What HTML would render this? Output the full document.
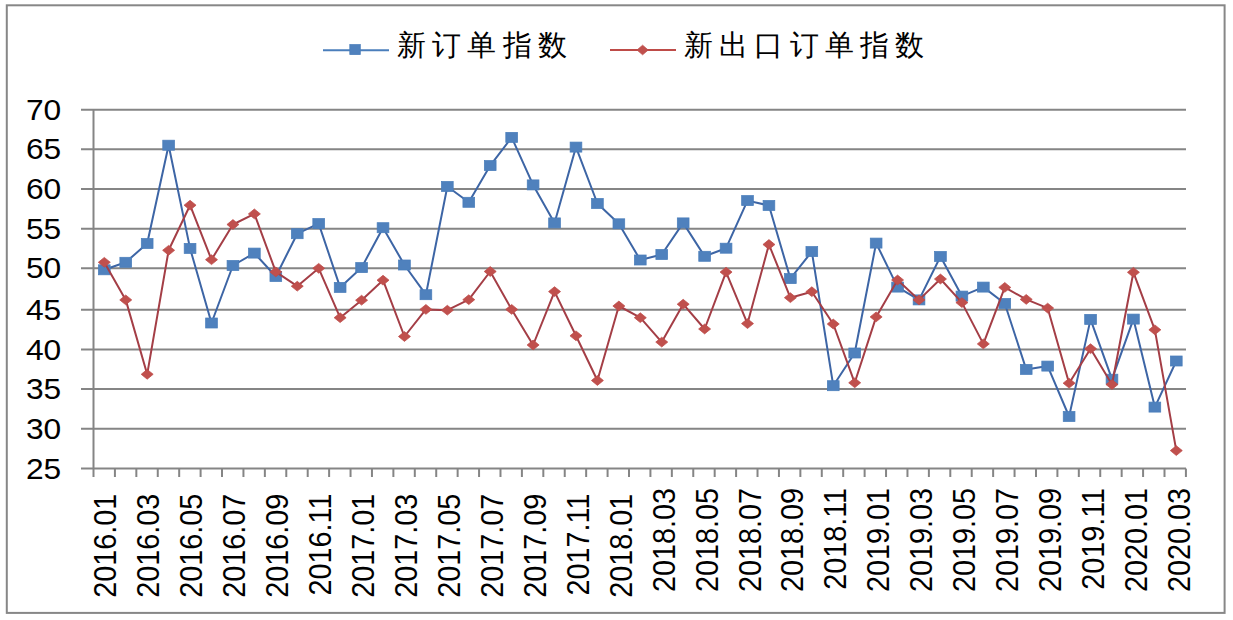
<!DOCTYPE html>
<html><head><meta charset="utf-8"><style>
html,body{margin:0;padding:0;background:#fff;}
svg{display:block;}
.yl{font-family:"Liberation Sans",sans-serif;font-size:29px;fill:#000;text-anchor:end;dominant-baseline:central;}
.xl{font-family:"Liberation Sans",sans-serif;font-size:28.8px;fill:#000;}
.lg{font-family:"Liberation Sans",sans-serif;font-size:29px;fill:#000;letter-spacing:6.2px;}
</style></head><body>
<svg width="1233" height="620" viewBox="0 0 1233 620">
<rect x="0" y="0" width="1233" height="620" fill="#fff"/>
<rect x="6.8" y="5.3" width="1217.8" height="607.6" fill="none" stroke="#878787" stroke-width="2"/>
<line x1="81" y1="109.80" x2="1186" y2="109.80" stroke="#858585" stroke-width="2"/>
<text class="yl" transform="translate(61.2 109.60) scale(1.095 1)">70</text>
<line x1="81" y1="149.20" x2="1186" y2="149.20" stroke="#858585" stroke-width="2"/>
<text class="yl" transform="translate(61.2 149.00) scale(1.095 1)">65</text>
<line x1="81" y1="188.90" x2="1186" y2="188.90" stroke="#858585" stroke-width="2"/>
<text class="yl" transform="translate(61.2 188.70) scale(1.095 1)">60</text>
<line x1="81" y1="228.80" x2="1186" y2="228.80" stroke="#858585" stroke-width="2"/>
<text class="yl" transform="translate(61.2 228.60) scale(1.095 1)">55</text>
<line x1="81" y1="268.20" x2="1186" y2="268.20" stroke="#858585" stroke-width="2"/>
<text class="yl" transform="translate(61.2 268.00) scale(1.095 1)">50</text>
<line x1="81" y1="309.80" x2="1186" y2="309.80" stroke="#858585" stroke-width="2"/>
<text class="yl" transform="translate(61.2 309.60) scale(1.095 1)">45</text>
<line x1="81" y1="349.60" x2="1186" y2="349.60" stroke="#858585" stroke-width="2"/>
<text class="yl" transform="translate(61.2 349.40) scale(1.095 1)">40</text>
<line x1="81" y1="388.90" x2="1186" y2="388.90" stroke="#858585" stroke-width="2"/>
<text class="yl" transform="translate(61.2 388.70) scale(1.095 1)">35</text>
<line x1="81" y1="428.80" x2="1186" y2="428.80" stroke="#858585" stroke-width="2"/>
<text class="yl" transform="translate(61.2 428.60) scale(1.095 1)">30</text>
<line x1="81" y1="468.60" x2="1186" y2="468.60" stroke="#858585" stroke-width="2"/>
<text class="yl" transform="translate(61.2 468.40) scale(1.095 1)">25</text>
<line x1="93.5" y1="109.80" x2="93.5" y2="477" stroke="#858585" stroke-width="2"/>
<line x1="114.92" y1="468.60" x2="114.92" y2="477" stroke="#858585" stroke-width="2"/>
<line x1="136.34" y1="468.60" x2="136.34" y2="477" stroke="#858585" stroke-width="2"/>
<line x1="157.76" y1="468.60" x2="157.76" y2="477" stroke="#858585" stroke-width="2"/>
<line x1="179.18" y1="468.60" x2="179.18" y2="477" stroke="#858585" stroke-width="2"/>
<line x1="200.60" y1="468.60" x2="200.60" y2="477" stroke="#858585" stroke-width="2"/>
<line x1="222.02" y1="468.60" x2="222.02" y2="477" stroke="#858585" stroke-width="2"/>
<line x1="243.44" y1="468.60" x2="243.44" y2="477" stroke="#858585" stroke-width="2"/>
<line x1="264.86" y1="468.60" x2="264.86" y2="477" stroke="#858585" stroke-width="2"/>
<line x1="286.28" y1="468.60" x2="286.28" y2="477" stroke="#858585" stroke-width="2"/>
<line x1="307.70" y1="468.60" x2="307.70" y2="477" stroke="#858585" stroke-width="2"/>
<line x1="329.12" y1="468.60" x2="329.12" y2="477" stroke="#858585" stroke-width="2"/>
<line x1="350.54" y1="468.60" x2="350.54" y2="477" stroke="#858585" stroke-width="2"/>
<line x1="371.96" y1="468.60" x2="371.96" y2="477" stroke="#858585" stroke-width="2"/>
<line x1="393.38" y1="468.60" x2="393.38" y2="477" stroke="#858585" stroke-width="2"/>
<line x1="414.80" y1="468.60" x2="414.80" y2="477" stroke="#858585" stroke-width="2"/>
<line x1="436.22" y1="468.60" x2="436.22" y2="477" stroke="#858585" stroke-width="2"/>
<line x1="457.64" y1="468.60" x2="457.64" y2="477" stroke="#858585" stroke-width="2"/>
<line x1="479.06" y1="468.60" x2="479.06" y2="477" stroke="#858585" stroke-width="2"/>
<line x1="500.48" y1="468.60" x2="500.48" y2="477" stroke="#858585" stroke-width="2"/>
<line x1="521.90" y1="468.60" x2="521.90" y2="477" stroke="#858585" stroke-width="2"/>
<line x1="543.32" y1="468.60" x2="543.32" y2="477" stroke="#858585" stroke-width="2"/>
<line x1="564.74" y1="468.60" x2="564.74" y2="477" stroke="#858585" stroke-width="2"/>
<line x1="586.16" y1="468.60" x2="586.16" y2="477" stroke="#858585" stroke-width="2"/>
<line x1="607.58" y1="468.60" x2="607.58" y2="477" stroke="#858585" stroke-width="2"/>
<line x1="629.00" y1="468.60" x2="629.00" y2="477" stroke="#858585" stroke-width="2"/>
<line x1="650.42" y1="468.60" x2="650.42" y2="477" stroke="#858585" stroke-width="2"/>
<line x1="671.84" y1="468.60" x2="671.84" y2="477" stroke="#858585" stroke-width="2"/>
<line x1="693.26" y1="468.60" x2="693.26" y2="477" stroke="#858585" stroke-width="2"/>
<line x1="714.68" y1="468.60" x2="714.68" y2="477" stroke="#858585" stroke-width="2"/>
<line x1="736.10" y1="468.60" x2="736.10" y2="477" stroke="#858585" stroke-width="2"/>
<line x1="757.52" y1="468.60" x2="757.52" y2="477" stroke="#858585" stroke-width="2"/>
<line x1="778.94" y1="468.60" x2="778.94" y2="477" stroke="#858585" stroke-width="2"/>
<line x1="800.36" y1="468.60" x2="800.36" y2="477" stroke="#858585" stroke-width="2"/>
<line x1="821.78" y1="468.60" x2="821.78" y2="477" stroke="#858585" stroke-width="2"/>
<line x1="843.20" y1="468.60" x2="843.20" y2="477" stroke="#858585" stroke-width="2"/>
<line x1="864.62" y1="468.60" x2="864.62" y2="477" stroke="#858585" stroke-width="2"/>
<line x1="886.04" y1="468.60" x2="886.04" y2="477" stroke="#858585" stroke-width="2"/>
<line x1="907.46" y1="468.60" x2="907.46" y2="477" stroke="#858585" stroke-width="2"/>
<line x1="928.88" y1="468.60" x2="928.88" y2="477" stroke="#858585" stroke-width="2"/>
<line x1="950.30" y1="468.60" x2="950.30" y2="477" stroke="#858585" stroke-width="2"/>
<line x1="971.72" y1="468.60" x2="971.72" y2="477" stroke="#858585" stroke-width="2"/>
<line x1="993.14" y1="468.60" x2="993.14" y2="477" stroke="#858585" stroke-width="2"/>
<line x1="1014.56" y1="468.60" x2="1014.56" y2="477" stroke="#858585" stroke-width="2"/>
<line x1="1035.98" y1="468.60" x2="1035.98" y2="477" stroke="#858585" stroke-width="2"/>
<line x1="1057.40" y1="468.60" x2="1057.40" y2="477" stroke="#858585" stroke-width="2"/>
<line x1="1078.82" y1="468.60" x2="1078.82" y2="477" stroke="#858585" stroke-width="2"/>
<line x1="1100.24" y1="468.60" x2="1100.24" y2="477" stroke="#858585" stroke-width="2"/>
<line x1="1121.66" y1="468.60" x2="1121.66" y2="477" stroke="#858585" stroke-width="2"/>
<line x1="1143.08" y1="468.60" x2="1143.08" y2="477" stroke="#858585" stroke-width="2"/>
<line x1="1164.50" y1="468.60" x2="1164.50" y2="477" stroke="#858585" stroke-width="2"/>
<line x1="1185.92" y1="468.60" x2="1185.92" y2="477" stroke="#858585" stroke-width="2"/>
<text class="xl" transform="translate(116.10 493.60) scale(1.08 1) rotate(-90)" text-anchor="end">2016.01</text>
<text class="xl" transform="translate(159.06 493.60) scale(1.08 1) rotate(-90)" text-anchor="end">2016.03</text>
<text class="xl" transform="translate(202.02 493.60) scale(1.08 1) rotate(-90)" text-anchor="end">2016.05</text>
<text class="xl" transform="translate(244.98 493.60) scale(1.08 1) rotate(-90)" text-anchor="end">2016.07</text>
<text class="xl" transform="translate(287.94 493.60) scale(1.08 1) rotate(-90)" text-anchor="end">2016.09</text>
<text class="xl" transform="translate(330.90 493.60) scale(1.08 1) rotate(-90)" text-anchor="end">2016.11</text>
<text class="xl" transform="translate(373.86 493.60) scale(1.08 1) rotate(-90)" text-anchor="end">2017.01</text>
<text class="xl" transform="translate(416.82 493.60) scale(1.08 1) rotate(-90)" text-anchor="end">2017.03</text>
<text class="xl" transform="translate(459.78 493.60) scale(1.08 1) rotate(-90)" text-anchor="end">2017.05</text>
<text class="xl" transform="translate(502.74 493.60) scale(1.08 1) rotate(-90)" text-anchor="end">2017.07</text>
<text class="xl" transform="translate(545.70 493.60) scale(1.08 1) rotate(-90)" text-anchor="end">2017.09</text>
<text class="xl" transform="translate(588.66 493.60) scale(1.08 1) rotate(-90)" text-anchor="end">2017.11</text>
<text class="xl" transform="translate(631.62 493.60) scale(1.08 1) rotate(-90)" text-anchor="end">2018.01</text>
<text class="xl" transform="translate(674.58 487.90) scale(1.08 1) rotate(-90)" text-anchor="end">2018.03</text>
<text class="xl" transform="translate(717.54 487.90) scale(1.08 1) rotate(-90)" text-anchor="end">2018.05</text>
<text class="xl" transform="translate(760.50 487.90) scale(1.08 1) rotate(-90)" text-anchor="end">2018.07</text>
<text class="xl" transform="translate(803.46 487.90) scale(1.08 1) rotate(-90)" text-anchor="end">2018.09</text>
<text class="xl" transform="translate(846.42 487.90) scale(1.08 1) rotate(-90)" text-anchor="end">2018.11</text>
<text class="xl" transform="translate(889.38 487.90) scale(1.08 1) rotate(-90)" text-anchor="end">2019.01</text>
<text class="xl" transform="translate(932.34 487.90) scale(1.08 1) rotate(-90)" text-anchor="end">2019.03</text>
<text class="xl" transform="translate(975.30 487.90) scale(1.08 1) rotate(-90)" text-anchor="end">2019.05</text>
<text class="xl" transform="translate(1018.26 487.90) scale(1.08 1) rotate(-90)" text-anchor="end">2019.07</text>
<text class="xl" transform="translate(1061.22 487.90) scale(1.08 1) rotate(-90)" text-anchor="end">2019.09</text>
<text class="xl" transform="translate(1104.18 487.90) scale(1.08 1) rotate(-90)" text-anchor="end">2019.11</text>
<text class="xl" transform="translate(1147.14 487.90) scale(1.08 1) rotate(-90)" text-anchor="end">2020.01</text>
<text class="xl" transform="translate(1190.10 487.90) scale(1.08 1) rotate(-90)" text-anchor="end">2020.03</text>
<polyline points="104.30,269.80 125.74,262.30 147.18,243.50 168.62,145.20 190.06,248.40 211.50,323.00 232.94,265.50 254.38,253.10 275.82,276.50 297.26,233.70 318.70,223.60 340.14,287.40 361.58,267.60 383.02,227.70 404.46,265.00 425.90,294.70 447.34,186.50 468.78,202.30 490.22,165.60 511.66,137.40 533.10,184.90 554.54,222.90 575.98,147.10 597.42,203.50 618.86,223.80 640.30,260.00 661.74,254.50 683.18,222.90 704.62,256.30 726.06,248.20 747.50,200.60 768.94,205.50 790.38,278.60 811.82,251.60 833.26,385.70 854.70,353.00 876.14,243.10 897.58,287.10 919.02,299.90 940.46,256.50 961.90,296.10 983.34,287.10 1004.78,303.50 1026.22,369.40 1047.66,366.10 1069.10,416.50 1090.54,319.40 1111.98,379.20 1133.42,319.10 1154.86,407.10 1176.30,361.00" fill="none" stroke="#3D65A5" stroke-width="2" stroke-linejoin="round"/>
<rect x="98.45" y="264.80" width="11.7" height="10" fill="#4F81BD" stroke="#4A7EBB" stroke-width="0.75"/>
<rect x="119.89" y="257.30" width="11.7" height="10" fill="#4F81BD" stroke="#4A7EBB" stroke-width="0.75"/>
<rect x="141.33" y="238.50" width="11.7" height="10" fill="#4F81BD" stroke="#4A7EBB" stroke-width="0.75"/>
<rect x="162.77" y="140.20" width="11.7" height="10" fill="#4F81BD" stroke="#4A7EBB" stroke-width="0.75"/>
<rect x="184.21" y="243.40" width="11.7" height="10" fill="#4F81BD" stroke="#4A7EBB" stroke-width="0.75"/>
<rect x="205.65" y="318.00" width="11.7" height="10" fill="#4F81BD" stroke="#4A7EBB" stroke-width="0.75"/>
<rect x="227.09" y="260.50" width="11.7" height="10" fill="#4F81BD" stroke="#4A7EBB" stroke-width="0.75"/>
<rect x="248.53" y="248.10" width="11.7" height="10" fill="#4F81BD" stroke="#4A7EBB" stroke-width="0.75"/>
<rect x="269.97" y="271.50" width="11.7" height="10" fill="#4F81BD" stroke="#4A7EBB" stroke-width="0.75"/>
<rect x="291.41" y="228.70" width="11.7" height="10" fill="#4F81BD" stroke="#4A7EBB" stroke-width="0.75"/>
<rect x="312.85" y="218.60" width="11.7" height="10" fill="#4F81BD" stroke="#4A7EBB" stroke-width="0.75"/>
<rect x="334.29" y="282.40" width="11.7" height="10" fill="#4F81BD" stroke="#4A7EBB" stroke-width="0.75"/>
<rect x="355.73" y="262.60" width="11.7" height="10" fill="#4F81BD" stroke="#4A7EBB" stroke-width="0.75"/>
<rect x="377.17" y="222.70" width="11.7" height="10" fill="#4F81BD" stroke="#4A7EBB" stroke-width="0.75"/>
<rect x="398.61" y="260.00" width="11.7" height="10" fill="#4F81BD" stroke="#4A7EBB" stroke-width="0.75"/>
<rect x="420.05" y="289.70" width="11.7" height="10" fill="#4F81BD" stroke="#4A7EBB" stroke-width="0.75"/>
<rect x="441.49" y="181.50" width="11.7" height="10" fill="#4F81BD" stroke="#4A7EBB" stroke-width="0.75"/>
<rect x="462.93" y="197.30" width="11.7" height="10" fill="#4F81BD" stroke="#4A7EBB" stroke-width="0.75"/>
<rect x="484.37" y="160.60" width="11.7" height="10" fill="#4F81BD" stroke="#4A7EBB" stroke-width="0.75"/>
<rect x="505.81" y="132.40" width="11.7" height="10" fill="#4F81BD" stroke="#4A7EBB" stroke-width="0.75"/>
<rect x="527.25" y="179.90" width="11.7" height="10" fill="#4F81BD" stroke="#4A7EBB" stroke-width="0.75"/>
<rect x="548.69" y="217.90" width="11.7" height="10" fill="#4F81BD" stroke="#4A7EBB" stroke-width="0.75"/>
<rect x="570.13" y="142.10" width="11.7" height="10" fill="#4F81BD" stroke="#4A7EBB" stroke-width="0.75"/>
<rect x="591.57" y="198.50" width="11.7" height="10" fill="#4F81BD" stroke="#4A7EBB" stroke-width="0.75"/>
<rect x="613.01" y="218.80" width="11.7" height="10" fill="#4F81BD" stroke="#4A7EBB" stroke-width="0.75"/>
<rect x="634.45" y="255.00" width="11.7" height="10" fill="#4F81BD" stroke="#4A7EBB" stroke-width="0.75"/>
<rect x="655.89" y="249.50" width="11.7" height="10" fill="#4F81BD" stroke="#4A7EBB" stroke-width="0.75"/>
<rect x="677.33" y="217.90" width="11.7" height="10" fill="#4F81BD" stroke="#4A7EBB" stroke-width="0.75"/>
<rect x="698.77" y="251.30" width="11.7" height="10" fill="#4F81BD" stroke="#4A7EBB" stroke-width="0.75"/>
<rect x="720.21" y="243.20" width="11.7" height="10" fill="#4F81BD" stroke="#4A7EBB" stroke-width="0.75"/>
<rect x="741.65" y="195.60" width="11.7" height="10" fill="#4F81BD" stroke="#4A7EBB" stroke-width="0.75"/>
<rect x="763.09" y="200.50" width="11.7" height="10" fill="#4F81BD" stroke="#4A7EBB" stroke-width="0.75"/>
<rect x="784.53" y="273.60" width="11.7" height="10" fill="#4F81BD" stroke="#4A7EBB" stroke-width="0.75"/>
<rect x="805.97" y="246.60" width="11.7" height="10" fill="#4F81BD" stroke="#4A7EBB" stroke-width="0.75"/>
<rect x="827.41" y="380.70" width="11.7" height="10" fill="#4F81BD" stroke="#4A7EBB" stroke-width="0.75"/>
<rect x="848.85" y="348.00" width="11.7" height="10" fill="#4F81BD" stroke="#4A7EBB" stroke-width="0.75"/>
<rect x="870.29" y="238.10" width="11.7" height="10" fill="#4F81BD" stroke="#4A7EBB" stroke-width="0.75"/>
<rect x="891.73" y="282.10" width="11.7" height="10" fill="#4F81BD" stroke="#4A7EBB" stroke-width="0.75"/>
<rect x="913.17" y="294.90" width="11.7" height="10" fill="#4F81BD" stroke="#4A7EBB" stroke-width="0.75"/>
<rect x="934.61" y="251.50" width="11.7" height="10" fill="#4F81BD" stroke="#4A7EBB" stroke-width="0.75"/>
<rect x="956.05" y="291.10" width="11.7" height="10" fill="#4F81BD" stroke="#4A7EBB" stroke-width="0.75"/>
<rect x="977.49" y="282.10" width="11.7" height="10" fill="#4F81BD" stroke="#4A7EBB" stroke-width="0.75"/>
<rect x="998.93" y="298.50" width="11.7" height="10" fill="#4F81BD" stroke="#4A7EBB" stroke-width="0.75"/>
<rect x="1020.37" y="364.40" width="11.7" height="10" fill="#4F81BD" stroke="#4A7EBB" stroke-width="0.75"/>
<rect x="1041.81" y="361.10" width="11.7" height="10" fill="#4F81BD" stroke="#4A7EBB" stroke-width="0.75"/>
<rect x="1063.25" y="411.50" width="11.7" height="10" fill="#4F81BD" stroke="#4A7EBB" stroke-width="0.75"/>
<rect x="1084.69" y="314.40" width="11.7" height="10" fill="#4F81BD" stroke="#4A7EBB" stroke-width="0.75"/>
<rect x="1106.13" y="374.20" width="11.7" height="10" fill="#4F81BD" stroke="#4A7EBB" stroke-width="0.75"/>
<rect x="1127.57" y="314.10" width="11.7" height="10" fill="#4F81BD" stroke="#4A7EBB" stroke-width="0.75"/>
<rect x="1149.01" y="402.10" width="11.7" height="10" fill="#4F81BD" stroke="#4A7EBB" stroke-width="0.75"/>
<rect x="1170.45" y="356.00" width="11.7" height="10" fill="#4F81BD" stroke="#4A7EBB" stroke-width="0.75"/>
<polyline points="104.30,262.30 125.74,299.90 147.18,374.30 168.62,250.30 190.06,205.20 211.50,259.70 232.94,224.50 254.38,213.90 275.82,271.90 297.26,286.20 318.70,268.30 340.14,317.70 361.58,300.20 383.02,280.20 404.46,336.50 425.90,309.40 447.34,310.20 468.78,299.70 490.22,271.50 511.66,309.40 533.10,345.00 554.54,291.60 575.98,335.80 597.42,380.50 618.86,306.00 640.30,317.70 661.74,342.10 683.18,304.20 704.62,329.00 726.06,272.10 747.50,323.60 768.94,244.50 790.38,297.70 811.82,291.70 833.26,324.00 854.70,382.80 876.14,316.90 897.58,280.00 919.02,299.90 940.46,279.00 961.90,302.60 983.34,343.90 1004.78,287.40 1026.22,299.40 1047.66,308.10 1069.10,383.20 1090.54,348.70 1111.98,384.50 1133.42,272.30 1154.86,329.80 1176.30,450.60" fill="none" stroke="#A43E46" stroke-width="2" stroke-linejoin="round"/>
<path d="M98.30 262.30L104.30 257.40L110.30 262.30L104.30 267.20Z" fill="#C0504D" stroke="#BE4B48" stroke-width="0.75"/>
<path d="M119.74 299.90L125.74 295.00L131.74 299.90L125.74 304.80Z" fill="#C0504D" stroke="#BE4B48" stroke-width="0.75"/>
<path d="M141.18 374.30L147.18 369.40L153.18 374.30L147.18 379.20Z" fill="#C0504D" stroke="#BE4B48" stroke-width="0.75"/>
<path d="M162.62 250.30L168.62 245.40L174.62 250.30L168.62 255.20Z" fill="#C0504D" stroke="#BE4B48" stroke-width="0.75"/>
<path d="M184.06 205.20L190.06 200.30L196.06 205.20L190.06 210.10Z" fill="#C0504D" stroke="#BE4B48" stroke-width="0.75"/>
<path d="M205.50 259.70L211.50 254.80L217.50 259.70L211.50 264.60Z" fill="#C0504D" stroke="#BE4B48" stroke-width="0.75"/>
<path d="M226.94 224.50L232.94 219.60L238.94 224.50L232.94 229.40Z" fill="#C0504D" stroke="#BE4B48" stroke-width="0.75"/>
<path d="M248.38 213.90L254.38 209.00L260.38 213.90L254.38 218.80Z" fill="#C0504D" stroke="#BE4B48" stroke-width="0.75"/>
<path d="M269.82 271.90L275.82 267.00L281.82 271.90L275.82 276.80Z" fill="#C0504D" stroke="#BE4B48" stroke-width="0.75"/>
<path d="M291.26 286.20L297.26 281.30L303.26 286.20L297.26 291.10Z" fill="#C0504D" stroke="#BE4B48" stroke-width="0.75"/>
<path d="M312.70 268.30L318.70 263.40L324.70 268.30L318.70 273.20Z" fill="#C0504D" stroke="#BE4B48" stroke-width="0.75"/>
<path d="M334.14 317.70L340.14 312.80L346.14 317.70L340.14 322.60Z" fill="#C0504D" stroke="#BE4B48" stroke-width="0.75"/>
<path d="M355.58 300.20L361.58 295.30L367.58 300.20L361.58 305.10Z" fill="#C0504D" stroke="#BE4B48" stroke-width="0.75"/>
<path d="M377.02 280.20L383.02 275.30L389.02 280.20L383.02 285.10Z" fill="#C0504D" stroke="#BE4B48" stroke-width="0.75"/>
<path d="M398.46 336.50L404.46 331.60L410.46 336.50L404.46 341.40Z" fill="#C0504D" stroke="#BE4B48" stroke-width="0.75"/>
<path d="M419.90 309.40L425.90 304.50L431.90 309.40L425.90 314.30Z" fill="#C0504D" stroke="#BE4B48" stroke-width="0.75"/>
<path d="M441.34 310.20L447.34 305.30L453.34 310.20L447.34 315.10Z" fill="#C0504D" stroke="#BE4B48" stroke-width="0.75"/>
<path d="M462.78 299.70L468.78 294.80L474.78 299.70L468.78 304.60Z" fill="#C0504D" stroke="#BE4B48" stroke-width="0.75"/>
<path d="M484.22 271.50L490.22 266.60L496.22 271.50L490.22 276.40Z" fill="#C0504D" stroke="#BE4B48" stroke-width="0.75"/>
<path d="M505.66 309.40L511.66 304.50L517.66 309.40L511.66 314.30Z" fill="#C0504D" stroke="#BE4B48" stroke-width="0.75"/>
<path d="M527.10 345.00L533.10 340.10L539.10 345.00L533.10 349.90Z" fill="#C0504D" stroke="#BE4B48" stroke-width="0.75"/>
<path d="M548.54 291.60L554.54 286.70L560.54 291.60L554.54 296.50Z" fill="#C0504D" stroke="#BE4B48" stroke-width="0.75"/>
<path d="M569.98 335.80L575.98 330.90L581.98 335.80L575.98 340.70Z" fill="#C0504D" stroke="#BE4B48" stroke-width="0.75"/>
<path d="M591.42 380.50L597.42 375.60L603.42 380.50L597.42 385.40Z" fill="#C0504D" stroke="#BE4B48" stroke-width="0.75"/>
<path d="M612.86 306.00L618.86 301.10L624.86 306.00L618.86 310.90Z" fill="#C0504D" stroke="#BE4B48" stroke-width="0.75"/>
<path d="M634.30 317.70L640.30 312.80L646.30 317.70L640.30 322.60Z" fill="#C0504D" stroke="#BE4B48" stroke-width="0.75"/>
<path d="M655.74 342.10L661.74 337.20L667.74 342.10L661.74 347.00Z" fill="#C0504D" stroke="#BE4B48" stroke-width="0.75"/>
<path d="M677.18 304.20L683.18 299.30L689.18 304.20L683.18 309.10Z" fill="#C0504D" stroke="#BE4B48" stroke-width="0.75"/>
<path d="M698.62 329.00L704.62 324.10L710.62 329.00L704.62 333.90Z" fill="#C0504D" stroke="#BE4B48" stroke-width="0.75"/>
<path d="M720.06 272.10L726.06 267.20L732.06 272.10L726.06 277.00Z" fill="#C0504D" stroke="#BE4B48" stroke-width="0.75"/>
<path d="M741.50 323.60L747.50 318.70L753.50 323.60L747.50 328.50Z" fill="#C0504D" stroke="#BE4B48" stroke-width="0.75"/>
<path d="M762.94 244.50L768.94 239.60L774.94 244.50L768.94 249.40Z" fill="#C0504D" stroke="#BE4B48" stroke-width="0.75"/>
<path d="M784.38 297.70L790.38 292.80L796.38 297.70L790.38 302.60Z" fill="#C0504D" stroke="#BE4B48" stroke-width="0.75"/>
<path d="M805.82 291.70L811.82 286.80L817.82 291.70L811.82 296.60Z" fill="#C0504D" stroke="#BE4B48" stroke-width="0.75"/>
<path d="M827.26 324.00L833.26 319.10L839.26 324.00L833.26 328.90Z" fill="#C0504D" stroke="#BE4B48" stroke-width="0.75"/>
<path d="M848.70 382.80L854.70 377.90L860.70 382.80L854.70 387.70Z" fill="#C0504D" stroke="#BE4B48" stroke-width="0.75"/>
<path d="M870.14 316.90L876.14 312.00L882.14 316.90L876.14 321.80Z" fill="#C0504D" stroke="#BE4B48" stroke-width="0.75"/>
<path d="M891.58 280.00L897.58 275.10L903.58 280.00L897.58 284.90Z" fill="#C0504D" stroke="#BE4B48" stroke-width="0.75"/>
<path d="M913.02 299.90L919.02 295.00L925.02 299.90L919.02 304.80Z" fill="#C0504D" stroke="#BE4B48" stroke-width="0.75"/>
<path d="M934.46 279.00L940.46 274.10L946.46 279.00L940.46 283.90Z" fill="#C0504D" stroke="#BE4B48" stroke-width="0.75"/>
<path d="M955.90 302.60L961.90 297.70L967.90 302.60L961.90 307.50Z" fill="#C0504D" stroke="#BE4B48" stroke-width="0.75"/>
<path d="M977.34 343.90L983.34 339.00L989.34 343.90L983.34 348.80Z" fill="#C0504D" stroke="#BE4B48" stroke-width="0.75"/>
<path d="M998.78 287.40L1004.78 282.50L1010.78 287.40L1004.78 292.30Z" fill="#C0504D" stroke="#BE4B48" stroke-width="0.75"/>
<path d="M1020.22 299.40L1026.22 294.50L1032.22 299.40L1026.22 304.30Z" fill="#C0504D" stroke="#BE4B48" stroke-width="0.75"/>
<path d="M1041.66 308.10L1047.66 303.20L1053.66 308.10L1047.66 313.00Z" fill="#C0504D" stroke="#BE4B48" stroke-width="0.75"/>
<path d="M1063.10 383.20L1069.10 378.30L1075.10 383.20L1069.10 388.10Z" fill="#C0504D" stroke="#BE4B48" stroke-width="0.75"/>
<path d="M1084.54 348.70L1090.54 343.80L1096.54 348.70L1090.54 353.60Z" fill="#C0504D" stroke="#BE4B48" stroke-width="0.75"/>
<path d="M1105.98 384.50L1111.98 379.60L1117.98 384.50L1111.98 389.40Z" fill="#C0504D" stroke="#BE4B48" stroke-width="0.75"/>
<path d="M1127.42 272.30L1133.42 267.40L1139.42 272.30L1133.42 277.20Z" fill="#C0504D" stroke="#BE4B48" stroke-width="0.75"/>
<path d="M1148.86 329.80L1154.86 324.90L1160.86 329.80L1154.86 334.70Z" fill="#C0504D" stroke="#BE4B48" stroke-width="0.75"/>
<path d="M1170.30 450.60L1176.30 445.70L1182.30 450.60L1176.30 455.50Z" fill="#C0504D" stroke="#BE4B48" stroke-width="0.75"/>
<line x1="323" y1="50.3" x2="389" y2="50.3" stroke="#4A7EBB" stroke-width="2"/>
<rect x="349.8" y="44.6" width="10.5" height="10" fill="#4F81BD" stroke="#4A7EBB" stroke-width="0.75"/>
<text class="lg" x="397" y="55">新订单指数</text>
<line x1="610" y1="50" x2="676" y2="50" stroke="#BE4B48" stroke-width="1.8"/>
<path d="M637 50L642.6 45.2L648.2 50L642.6 54.8Z" fill="#C0504D" stroke="#BE4B48" stroke-width="0.75"/>
<text class="lg" x="684" y="55">新出口订单指数</text>
</svg>
</body></html>
